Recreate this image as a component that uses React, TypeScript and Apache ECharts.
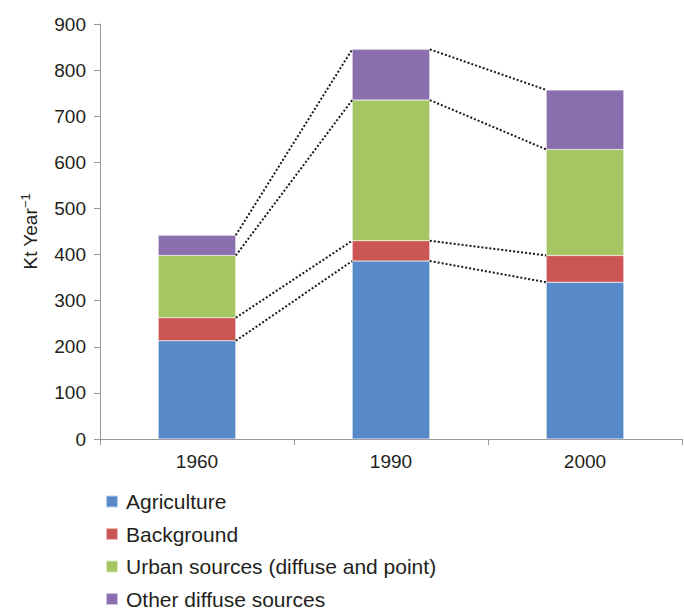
import React, { useEffect, useRef } from "react";
import * as echarts from "echarts";

const categories = ["1960", "1990", "2000"];
const agriculture = [213, 386, 340];
const background = [50, 44, 58];
const urban = [135, 305, 230];
const other = [44, 110, 129];
const yTicks = { min: 0, max: 900, interval: 100 };

const seriesNames = [
  "Agriculture",
  "Background",
  "Urban sources (diffuse and point)",
  "Other diffuse sources",
];
const colors = ["#5889C8", "#CC5653", "#A5C663", "#8A6EAE"];

export default function App() {
  const ref = useRef<HTMLDivElement>(null);
  useEffect(() => {
    if (!ref.current) return;
    const chart = echarts.init(ref.current, null, { renderer: "svg" });
    const stacks = [agriculture, background, urban, other];
    const cum: number[][] = [];
    stacks.forEach((s, k) => {
      cum.push(s.map((v, i) => (k === 0 ? v : cum[k - 1][i] + v)));
    });
    const connectors: number[][] = [];
    cum.forEach((row) => {
      for (let i = 0; i < row.length - 1; i++) {
        connectors.push([i, row[i], row[i + 1]]);
      }
    });
    const font = "'Liberation Sans', Arial, sans-serif";
    const textColor = "#231F20";
    chart.setOption({
      animation: false,
      textStyle: { fontFamily: font },
      grid: { left: 100, right: 2, top: 24, bottom: 174, containLabel: false },
      legend: {
        orient: "vertical",
        left: 105,
        top: 491,
        height: 200,
        padding: 0,
        itemWidth: 12,
        itemHeight: 12,
        itemGap: 11.5,
        icon: "rect",
        data: seriesNames,
        textStyle: { fontSize: 21, color: textColor, fontFamily: font, padding: [0, 0, 0, 3] },
      },
      xAxis: {
        type: "category",
        data: categories,
        axisLine: { lineStyle: { color: "#999999", width: 1 } },
        axisTick: { show: true, length: 6, lineStyle: { color: "#999999" } },
        axisLabel: { fontSize: 19, color: textColor, margin: 13, fontFamily: font },
      },
      yAxis: {
        type: "value",
        min: yTicks.min,
        max: yTicks.max,
        interval: yTicks.interval,
        name: "{a|Kt Year}{s|−1}",
        nameLocation: "middle",
        nameRotate: 90,
        nameGap: 58,
        nameTextStyle: {
          rich: {
            a: { fontSize: 19, color: textColor, fontFamily: font },
            s: { fontSize: 13, color: textColor, fontFamily: font, verticalAlign: "top", padding: [0, 0, 10, 0] },
          },
        },
        axisLine: { show: true, lineStyle: { color: "#999999", width: 1 } },
        axisTick: { show: true, length: 6, lineStyle: { color: "#999999" } },
        splitLine: { show: false },
        axisLabel: { fontSize: 19, color: textColor, margin: 14, fontFamily: font },
      },
      series: [
        ...stacks.map((s, k) => ({
          name: seriesNames[k],
          type: "bar",
          stack: "total",
          barWidth: "40%",
          data: s,
          itemStyle: { color: colors[k], borderColor: "rgba(255,255,255,0.6)", borderWidth: 0.5 },
        })),
        {
          type: "custom",
          name: "connectors",
          data: connectors,
          encode: { x: 0, y: 1 },
          z: 5,
          renderItem: (params: any, api: any) => {
            const i = api.value(0);
            const v1 = api.value(1);
            const v2 = api.value(2);
            const p1 = api.coord([i, v1]);
            const p2 = api.coord([i + 1, v2]);
            const band = api.size([1, 0])[0];
            const half = (band * 0.4) / 2;
            return {
              type: "line",
              shape: { x1: p1[0] + half, y1: p1[1], x2: p2[0] - half, y2: p2[1] },
              style: { stroke: "#1A1A1A", lineWidth: 2, lineDash: [2, 2] },
            };
          },
        },
      ],
    });
    return () => chart.dispose();
  }, []);
  return (
    <div
      ref={ref}
      style={{ position: "absolute", left: 0, top: 0, width: 684, height: 613 }}
    />
  );
}
